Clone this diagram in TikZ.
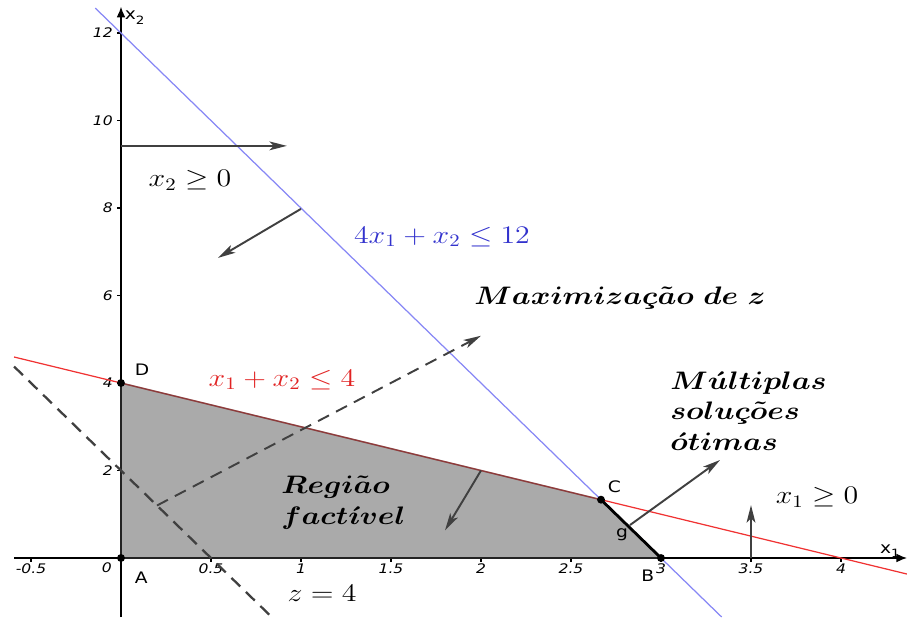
\documentclass[tikz,border=0pt]{standalone}
\usepackage{fontspec}
\usepackage{amsmath,graphicx}
\usetikzlibrary{arrows.meta, positioning}
\newfontfamily\ggsans{DejaVu Sans}
\newcommand{\hs}[1]{\scalebox{1.18}[1]{#1}}
\newcommand{\bcc}{\ooalign{$c$\cr\hidewidth\bfseries ¸\hidewidth\cr}}
\definecolor{ggblue}{RGB}{135,135,245}
\definecolor{ggbluetext}{RGB}{50,50,205}
\definecolor{ggred}{RGB}{240,50,50}
\definecolor{ggredtext}{RGB}{225,35,35}
\definecolor{ggfill}{RGB}{170,170,170}
\definecolor{ggdark}{RGB}{64,64,64}
\tikzset{
  axis/.style={line width=0.8pt,-{Latex[length=6pt,width=5pt]}},
  vec/.style={line width=1.1pt,ggdark,-{Stealth[length=10pt,width=5pt,inset=2.5pt]}},
  dashvec/.style={vec,dash pattern=on 7pt off 4.5pt},
  dashline/.style={line width=1.3pt,ggdark,dash pattern=on 7pt off 4.5pt},
  vertex/.style={circle,fill=black,inner sep=0pt,minimum size=4.5pt},
  ptlabel/.style={font=\ggsans\fontsize{9}{10}\selectfont,inner sep=1pt},
  ticklabel/.style={font=\ggsans\itshape\fontsize{7.5}{9}\selectfont,inner sep=1pt},
  mathlabel/.style={font=\fontsize{14}{17}\selectfont,inner sep=0pt},
  boldlabel/.style={font=\fontsize{14}{17.5}\selectfont\boldmath,inner sep=0pt,align=left,anchor=west}
}

\begin{document}
\begin{tikzpicture}[x=3.6cm, y=0.875cm]
\useasboundingbox (-0.6722,-1.3486) rectangle (4.3667,12.7543);

% feasible region
\coordinate (A) at (0,0);
\coordinate (B) at (3,0);
\coordinate (C) at (8/3,4/3);
\coordinate (D) at (0,4);
\fill[ggfill] (A) -- (B) -- (C) -- (D) -- cycle;

% axes and ticks
\coordinate (xl) at (-0.594,0);
\coordinate (xr) at (4.3667,0);
\coordinate (yb) at (0,-1.3486);
\coordinate (yt) at (0,12.6);
\draw[axis] (xl) -- (xr);
\draw[axis] (yb) -- (yt);
\foreach \x in {-0.5,0.5,1,1.5,2,2.5,3,3.5,4} {
  \draw[line width=0.6pt] (\x,0) -- ++(0,-2.5pt);
  \node[ticklabel, below=2pt] at (\x,0) {\hs{\x}};
}
\foreach \y in {2,4,...,12} {
  \draw[line width=0.6pt] (0,\y) -- ++(-2.5pt,0);
  \node[ticklabel, left=3.5pt] at (0,\y) {\hs{\y}};
}
\node[ticklabel, below left=1.5pt and 4pt] at (A) {\hs{0}};
\node[ptlabel, above left=-1pt and 3pt] (xlab) at (xr) {\hs{x\raisebox{-0.5ex}{\fontsize{6.5}{7}\selectfont 1}}};
\node[ptlabel, right=1pt] (ylab) at (0,12.35) {\hs{x\raisebox{-0.5ex}{\fontsize{6.5}{7}\selectfont 2}}};

% constraint lines
\coordinate (b1) at (-0.143,12.57);
\coordinate (b2) at (3.337,-1.3486);
\coordinate (r1) at (-0.594,4.594);
\coordinate (r2) at (4.3667,-0.3667);
\draw[ggblue, line width=0.7pt] (b1) -- (b2);
\draw[ggred, line width=0.7pt] (r1) -- (r2);

% objective
\coordinate (z1) at (-0.594,4.376);
\coordinate (z2) at (0.837,-1.3486);
\coordinate (g0) at (0.2,1.2);
\coordinate (g1) at (2.0,5.08);
\draw[dashline] (z1) -- (z2);
\draw[dashvec] (g0) -- (g1);

% region border
\draw[ggdark, line width=0.9pt, opacity=0.55] (A) -- (B) -- (C) -- (D) -- cycle;
\draw[black, line width=1.6pt] (B) -- (C);

% direction arrows
\coordinate (p1) at (0,9.42);
\coordinate (p2) at (0.922,9.42);
\coordinate (q1) at (1.0,7.98);
\coordinate (q2) at (0.539,6.86);
\coordinate (s1) at (2.0,2.0);
\coordinate (s2) at (1.8,0.63);
\coordinate (t1) at (3.5,0);
\coordinate (t2) at (3.5,1.21);
\coordinate (m1) at (2.828,0.754);
\coordinate (m2) at (3.328,2.24);
\draw[vec] (p1) -- (p2);
\draw[vec] (q1) -- (q2);
\draw[vec] (s1) -- (s2);
\draw[vec] (t1) -- (t2);
\draw[vec] (m1) -- (m2);

% vertices
\node[vertex] (pA) at (A) {};
\node[vertex] (pB) at (B) {};
\node[vertex] (pC) at (C) {};
\node[vertex] (pD) at (D) {};
\node[ptlabel, below right=5pt and 5pt of pA] {\hs{A}};
\node[ptlabel, below left=4pt and 1pt of pB] {\hs{B}};
\node[ptlabel, above right=1pt and 1pt of pC] {\hs{C}};
\node[ptlabel, above right=1.5pt and 5pt of pD] {\hs{D}};
\node[ptlabel] (g) at (2.783,0.526) {\hs{g}};

% labels
\node[mathlabel] (x2pos) at (0.383,8.64) {\hs{$x_2\geq 0$}};
\node[mathlabel, text=ggbluetext] (blue) at (1.783,7.34) {\hs{$4x_1+x_2\leq 12$}};
\node[mathlabel, font=\fontsize{14}{17}\selectfont\boldmath] (maxz) at (2.772,5.94) {\hs{$Maximiza$\bcc$\tilde{a}o\ de\ z$}};
\node[mathlabel, text=ggredtext] (red) at (0.894,4.07) {\hs{$x_1+x_2\leq 4$}};
\node[boldlabel] (multi) at (3.05,3.36) {\hs{$M\acute{u}ltiplas$}\\ \hs{$solu$\bcc$\tilde{o}es$}\\ \hs{$\acute{o}timas$}};
\node[boldlabel] (regiao) at (0.889,1.27) {\hs{$Regi\tilde{a}o$}\\ \hs{$fact\acute{\imath}vel$}};
\node[mathlabel] (x1pos) at (3.867,1.39) {\hs{$x_1\geq 0$}};
\node[mathlabel] (zval) at (1.117,-0.8) {\hs{$z=4$}};
\end{tikzpicture}
\end{document}
